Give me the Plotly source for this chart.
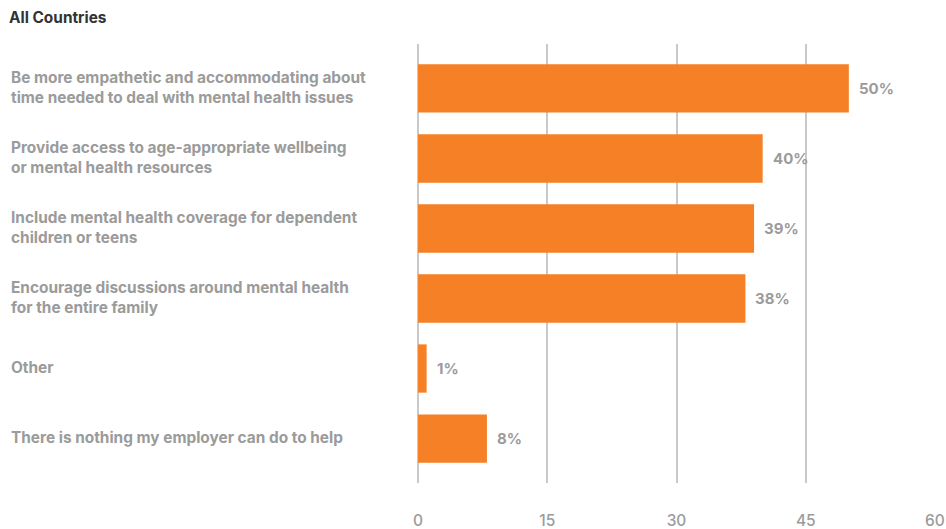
import plotly.graph_objects as go

# Survey responses: what employers can do to help
categories = [
    "Be more empathetic and accommodating about<br>time needed to deal with mental health issues",
    "Provide access to age-appropriate wellbeing<br>or mental health resources",
    "Include mental health coverage for dependent<br>children or teens",
    "Encourage discussions around mental health<br>for the entire family",
    "Other",
    "There is nothing my employer can do to help",
]
values = [50, 40, 39, 38, 1, 8]
x_ticks = [0, 15, 30, 45, 60]

BAR_COLOR = "#F58025"
LABEL_GRAY = "#9b9b9b"
GRID_GRAY = "#c9c9c9"
FONT = "Inter, Lato, sans-serif"

W, H = 946, 529
ML, MR, MT, MB = 418, 11, 44, 46
plot_w = W - ML - MR

fig = go.Figure(
    go.Bar(
        x=values,
        y=list(range(len(categories))),
        orientation="h",
        marker=dict(color=BAR_COLOR, line=dict(width=0)),
        width=0.69,
        hoverinfo="skip",
    )
)

# Value labels just beyond bar ends
for i, v in enumerate(values):
    fig.add_annotation(
        x=v, y=i, xref="x", yref="y",
        text=f"<b>{v}%</b>", showarrow=False,
        xanchor="left", yanchor="middle", xshift=8,
        font=dict(family=FONT, size=15, color=LABEL_GRAY),
    )

# Left-aligned category labels
for i, c in enumerate(categories):
    fig.add_annotation(
        x=(9 - ML) / plot_w, y=i, xref="paper", yref="y",
        text=f"<b>{c}</b>", showarrow=False, align="left",
        xanchor="left", yanchor="middle", yshift=1,
        font=dict(family=FONT, size=15.4, color=LABEL_GRAY),
    )

fig.update_layout(
    width=W, height=H,
    margin=dict(l=ML, r=MR, t=MT, b=MB, pad=0, autoexpand=False),
    paper_bgcolor="white", plot_bgcolor="white",
    showlegend=False,
    title=dict(
        text="<b>All Countries</b>",
        x=9 / W, xanchor="left", xref="container",
        y=1 - 18 / H, yanchor="middle", yref="container",
        font=dict(family=FONT, size=15.4, color="#333333"),
    ),
    xaxis=dict(
        range=[0, 60], tickvals=x_ticks, ticktext=[str(t) for t in x_ticks],
        showgrid=True, gridcolor=GRID_GRAY, gridwidth=1.5,
        zeroline=True, zerolinecolor=GRID_GRAY, zerolinewidth=1.5,
        showline=False, ticks="",
        tickfont=dict(family=FONT, size=15.5, color=LABEL_GRAY, weight=500),
        ticklabelstandoff=26,
        automargin=False,
        fixedrange=True,
    ),
    yaxis=dict(
        range=[5.635, -0.635], showticklabels=False, showgrid=False,
        zeroline=False, showline=False, ticks="", fixedrange=True,
        automargin=False,
    ),
)

fig.write_html("out.html")
